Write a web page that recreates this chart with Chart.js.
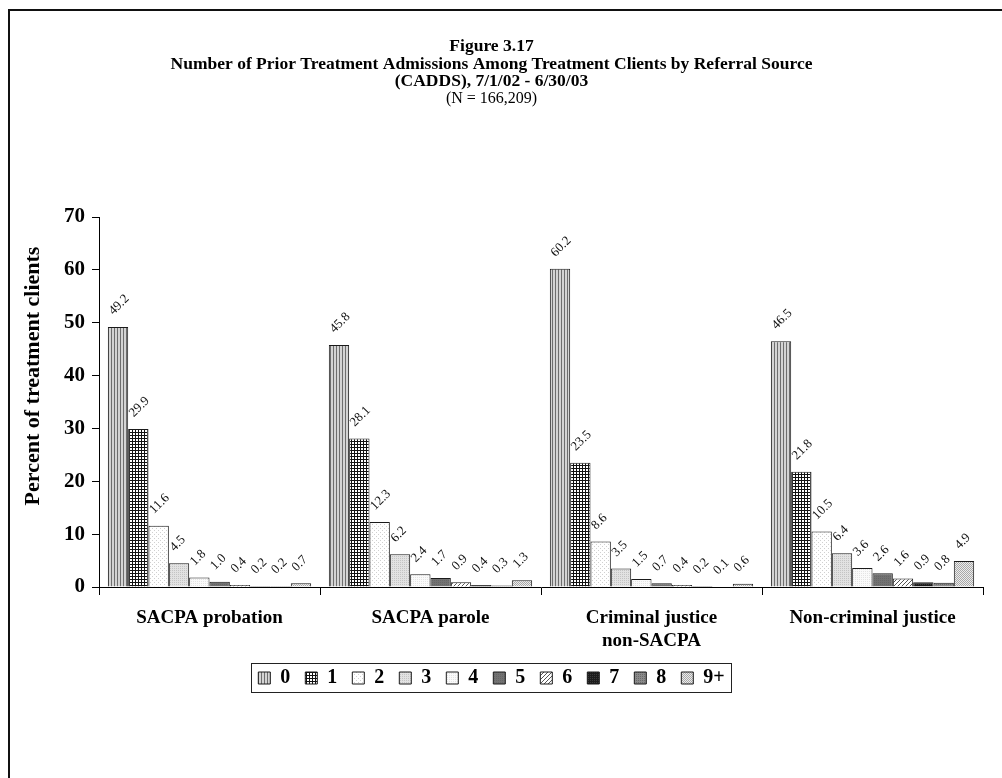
<!DOCTYPE html>
<html>
<head>
<meta charset="utf-8">
<script src="https://cdn.jsdelivr.net/npm/chart.js@4.4.1/dist/chart.umd.min.js"></script>
<style>
  html, body { margin: 0; padding: 0; background: #fff; }
</style>
</head>
<body>
<canvas id="chart" width="1002" height="778"></canvas>
<script>
const categories = ['SACPA probation', 'SACPA parole', ['Criminal justice', 'non-SACPA'], 'Non-criminal justice']
const admissionLabels = ['0', '1', '2', '3', '4', '5', '6', '7', '8', '9+']

// percent of clients per referral source, one list per number of prior admissions
const prior0 = [49.2, 45.8, 60.2, 46.5]
const prior1 = [29.9, 28.1, 23.5, 21.8]
const prior2 = [11.6, 12.3, 8.6, 10.5]
const prior3 = [4.5, 6.2, 3.5, 6.4]
const prior4 = [1.8, 2.4, 1.5, 3.6]
const prior5 = [1.0, 1.7, 0.7, 2.6]
const prior6 = [0.4, 0.9, 0.4, 1.6]
const prior7 = [0.2, 0.4, 0.2, 0.9]
const prior8 = [0.2, 0.3, 0.1, 0.8]
const prior9 = [0.7, 1.3, 0.6, 4.9]

const yTicks = [0, 10, 20, 30, 40, 50, 60, 70]

const serif = "'Liberation Serif', 'Times New Roman', serif"

function makePattern(kind) {
    let c = document.createElement('canvas')
    let g = c.getContext('2d')
    if (kind == 0) {
        c.width = 3; c.height = 3
        g.fillStyle = '#d4d4d4'; g.fillRect(0, 0, 3, 3)
        g.fillStyle = '#6e6e6e'; g.fillRect(0, 0, 1, 3)
    } else if (kind == 1) {
        c.width = 3; c.height = 3
        g.fillStyle = '#ffffff'; g.fillRect(0, 0, 3, 3)
        g.fillStyle = '#111111'; g.fillRect(0, 0, 3, 1); g.fillRect(0, 0, 1, 3)
    } else if (kind == 2) {
        c.width = 4; c.height = 4
        g.fillStyle = '#ffffff'; g.fillRect(0, 0, 4, 4)
        g.fillStyle = '#d0d0d0'; g.fillRect(0, 0, 1, 1); g.fillRect(2, 2, 1, 1)
    } else if (kind == 3) {
        c.width = 2; c.height = 2
        g.fillStyle = '#e2e2e2'; g.fillRect(0, 0, 2, 2)
        g.fillStyle = '#c4c4c4'; g.fillRect(0, 0, 1, 1)
    } else if (kind == 4) {
        c.width = 2; c.height = 2
        g.fillStyle = '#fafafa'; g.fillRect(0, 0, 2, 2)
        g.fillStyle = '#e4e4e4'; g.fillRect(1, 1, 1, 1)
    } else if (kind == 5) {
        c.width = 2; c.height = 2
        g.fillStyle = '#727272'; g.fillRect(0, 0, 2, 2)
        g.fillStyle = '#666666'; g.fillRect(0, 0, 1, 1)
    } else if (kind == 6) {
        c.width = 4; c.height = 4
        g.fillStyle = '#ffffff'; g.fillRect(0, 0, 4, 4)
        g.fillStyle = '#555555'
        for (let i = 0; i < 4; i++) g.fillRect(3 - i, i, 1, 1)
    } else if (kind == 7) {
        c.width = 2; c.height = 2
        g.fillStyle = '#1c1c1c'; g.fillRect(0, 0, 2, 2)
        g.fillStyle = '#3a3a3a'; g.fillRect(0, 0, 1, 1)
    } else if (kind == 8) {
        c.width = 2; c.height = 2
        g.fillStyle = '#8a8a8a'; g.fillRect(0, 0, 2, 2)
        g.fillStyle = '#6a6a6a'; g.fillRect(0, 0, 1, 1)
    } else {
        c.width = 2; c.height = 2
        g.fillStyle = '#ececec'; g.fillRect(0, 0, 2, 2)
        g.fillStyle = '#a8a8a8'; g.fillRect(0, 0, 1, 1); g.fillRect(1, 1, 1, 1)
    }
    let ctx = document.getElementById('chart').getContext('2d')
    return ctx.createPattern(c, 'repeat')
}

const seriesValues = [prior0, prior1, prior2, prior3, prior4, prior5, prior6, prior7, prior8, prior9]

let datasets = []
for (let i = 0; i < seriesValues.length; i++) {
    datasets.push({
        label: admissionLabels[i],
        data: seriesValues[i],
        backgroundColor: makePattern(i),
        borderColor: '#1a1a1a',
        borderWidth: 1,
        barPercentage: 1.0,
        categoryPercentage: 0.92
    })
}

// frame round the figure, white background, y axis title (sits above the middle of the axis)
const framePlugin = {
    id: 'frame',
    beforeDraw(chart) {
        let ctx = chart.ctx
        ctx.save()
        ctx.fillStyle = '#fff'
        ctx.fillRect(0, 0, chart.width, chart.height)
        ctx.fillStyle = '#111'
        ctx.fillRect(8, 9, 2, chart.height - 9)
        ctx.fillRect(8, 9, chart.width - 8, 2)
        ctx.restore()
    },
    afterDraw(chart) {
        let ctx = chart.ctx
        ctx.save()
        ctx.translate(33, 376)
        ctx.rotate(-Math.PI / 2)
        ctx.font = 'bold 22px ' + serif
        ctx.fillStyle = '#000'
        ctx.textAlign = 'center'
        ctx.textBaseline = 'middle'
        ctx.fillText('Percent of treatment clients', 0, 0)
        ctx.restore()
    }
}

// rotated value labels over every bar
const valueLabels = {
    id: 'valueLabels',
    afterDatasetsDraw(chart) {
        let ctx = chart.ctx
        ctx.save()
        ctx.font = '13px ' + serif
        ctx.fillStyle = '#111'
        ctx.textAlign = 'left'
        ctx.textBaseline = 'middle'
        chart.data.datasets.forEach((ds, di) => {
            let meta = chart.getDatasetMeta(di)
            meta.data.forEach((bar, j) => {
                ctx.save()
                ctx.translate(bar.x - 7, bar.y - 14)
                ctx.rotate(-Math.PI / 4)
                ctx.fillText(ds.data[j].toFixed(1), 0, 0)
                ctx.restore()
            })
        })
        ctx.restore()
    }
}

// border round the legend
const legendBox = {
    id: 'legendBox',
    afterDraw(chart) {
        let boxes = chart.legend.legendHitBoxes
        if (!boxes || !boxes.length) return
        let left = Math.min(...boxes.map(b => b.left))
        let right = Math.max(...boxes.map(b => b.left + b.width))
        let top = Math.min(...boxes.map(b => b.top))
        let bottom = Math.max(...boxes.map(b => b.top + b.height))
        let ctx = chart.ctx
        ctx.save()
        ctx.strokeStyle = '#222'
        ctx.lineWidth = 1
        ctx.strokeRect(Math.round(left - 7) + 0.5, Math.round(top - 5) + 0.5, Math.round(right - left + 14), Math.round(bottom - top + 9))
        ctx.restore()
    }
}

let ctx = document.getElementById('chart').getContext('2d')
let chart = new Chart(ctx, {
    type: 'bar',
    data: {
        labels: categories,
        datasets: datasets
    },
    plugins: [framePlugin, valueLabels, legendBox],
    options: {
        responsive: false,
        animation: false,
        layout: { padding: { left: 0, right: 19, top: 0, bottom: 80 } },
        plugins: {
            tooltip: { enabled: false },
            title: {
                display: true,
                text: ['Figure 3.17', 'Number of Prior Treatment Admissions Among Treatment Clients by Referral Source', '(CADDS), 7/1/02 - 6/30/03'],
                color: '#000',
                font: { family: serif, size: 17.5, weight: 'bold', lineHeight: '17.5px' },
                padding: { top: 38, bottom: 0 }
            },
            subtitle: {
                display: true,
                text: '(N = 166,209)',
                color: '#000',
                font: { family: serif, size: 16, weight: 'normal', lineHeight: '17px' },
                padding: { top: 0, bottom: 109.5 }
            },
            legend: {
                position: 'bottom',
                labels: {
                    color: '#000',
                    font: { family: serif, size: 20, weight: 'bold' },
                    boxWidth: 12,
                    boxHeight: 12,
                    padding: 15
                }
            }
        },
        scales: {
            x: {
                grid: { display: true, drawOnChartArea: false, offset: true, tickLength: 8, color: '#000', tickColor: '#000' },
                border: { display: true, color: '#000', width: 1 },
                ticks: {
                    color: '#000',
                    padding: 12,
                    maxRotation: 0,
                    autoSkip: false,
                    font: { family: serif, size: 19, weight: 'bold', lineHeight: 1.2 }
                },
                afterFit(scale) { scale.height = 66 }
            },
            y: {
                min: 0,
                max: 70,
                afterBuildTicks(scale) { scale.ticks = yTicks.map(v => ({ value: v })) },
                grid: { display: true, drawOnChartArea: false, tickLength: 7, color: '#000', tickColor: '#000' },
                border: { display: true, color: '#000', width: 1 },
                ticks: {
                    color: '#000',
                    padding: 7,
                    font: { family: serif, size: 21, weight: 'bold' }
                },
                afterFit(scale) { scale.width = 99 }
            }
        }
    }
})
</script>
</body>
</html>
